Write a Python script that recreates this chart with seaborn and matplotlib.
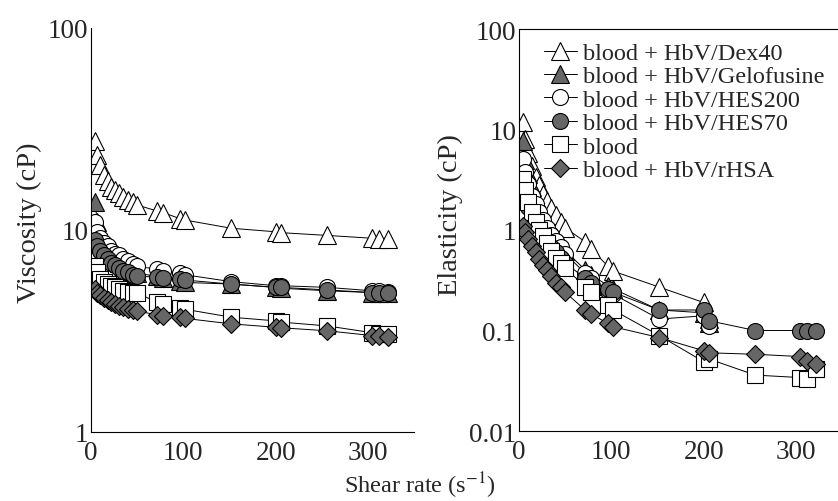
import numpy as np
import pandas as pd
import matplotlib
matplotlib.use('Agg')
import matplotlib.pyplot as plt
import seaborn as sns

# === DATA ===
SHEAR = [4, 7, 10, 14, 18, 22, 26, 30, 35, 40, 45, 50,
         72, 78, 96, 102, 152, 200, 206, 256, 305, 312, 322]

LABELS = ["blood + HbV/Dex40", "blood + HbV/Gelofusine", "blood + HbV/HES200",
          "blood + HbV/HES70", "blood", "blood + HbV/rHSA"]

# viscosity (cP)
visc_dex40 = [27.5, 23.5, 21.0, 18.7, 17.4, 16.4, 15.7, 15.2, 14.6, 14.0, 13.8, 13.3,
              12.4, 12.2, 11.4, 11.2, 10.2, 9.8, 9.7, 9.4, 9.1, 9.05, 9.0]
visc_gelo = [13.8, 11.0, 9.6, 8.6, 8.0, 7.6, 7.2, 6.9, 6.7, 6.5, 6.3, 6.1,
             5.9, 5.8, 5.6, 5.5, 5.4, 5.2, 5.15, 5.0, 4.9, 4.9, 4.9]
visc_hes200 = [11.0, 9.8, 9.1, 8.6, 8.3, 7.9, 7.6, 7.5, 7.2, 7.0, 6.8, 6.6,
               6.4, 6.3, 6.1, 6.0, 5.55, 5.3, 5.3, 5.2, 5.0, 5.0, 4.95]
visc_hes70 = [8.9, 8.3, 7.9, 7.5, 7.2, 6.9, 6.7, 6.5, 6.3, 6.2, 6.0, 5.9,
              5.85, 5.8, 5.7, 5.65, 5.4, 5.2, 5.2, 5.05, 4.9, 4.85, 4.85]
visc_blood = [6.6, 6.2, 5.75, 5.55, 5.4, 5.3, 5.25, 5.1, 5.0, 4.95, 4.9, 4.85,
              4.4, 4.3, 4.1, 4.05, 3.7, 3.55, 3.5, 3.35, 3.1, 3.05, 3.05]
visc_rhsa = [5.1, 4.9, 4.75, 4.6, 4.5, 4.4, 4.3, 4.2, 4.15, 4.05, 4.0, 3.97,
             3.8, 3.76, 3.7, 3.65, 3.43, 3.3, 3.28, 3.17, 3.0, 3.0, 2.95]

# elasticity (cP)
elas_dex40 = [11.9, 8.0, 5.8, 4.3, 3.4, 2.8, 2.3, 1.95, 1.65, 1.4, 1.2, 1.05,
              0.76, 0.65, 0.44, 0.39, 0.27, 0.19, 0.13]
elas_gelo = [7.7, 5.0, 3.6, 2.7, 2.1, 1.7, 1.4, 1.2, 1.0, 0.85, 0.72, 0.62,
             0.4, 0.36, 0.28, 0.26, 0.16, 0.15, 0.12]
elas_hes200 = [5.1, 3.8, 2.9, 2.2, 1.8, 1.5, 1.25, 1.05, 0.9, 0.78, 0.67, 0.58,
               0.37, 0.33, 0.25, 0.23, 0.13, 0.14, 0.11]
elas_hes70 = [2.4, 2.0, 1.7, 1.4, 1.2, 1.0, 0.88, 0.78, 0.68, 0.6, 0.53, 0.47,
              0.33, 0.3, 0.26, 0.24, 0.16, 0.16, 0.125, 0.1, 0.1, 0.1, 0.1]
elas_blood = [3.2, 2.5, 1.9, 1.5, 1.2, 1.0, 0.88, 0.75, 0.62, 0.53, 0.47, 0.42,
              0.27, 0.24, 0.18, 0.16, 0.089, 0.049, 0.052, 0.036, 0.034, 0.033, 0.041]
elas_rhsa = [1.1, 0.95, 0.82, 0.7, 0.6, 0.52, 0.45, 0.4, 0.35, 0.3, 0.27, 0.24,
             0.159, 0.146, 0.118, 0.109, 0.085, 0.063, 0.06, 0.058, 0.055, 0.05, 0.046]

VISC = [visc_dex40, visc_gelo, visc_hes200, visc_hes70, visc_blood, visc_rhsa]
ELAS = [elas_dex40, elas_gelo, elas_hes200, elas_hes70, elas_blood, elas_rhsa]

# === STYLE ===
sns.set_theme(style="white")
plt.rcParams['font.family'] = ['Liberation Serif', 'DejaVu Serif']
plt.rcParams['mathtext.fontset'] = 'stix'

GRAY = "#666666"
MARKERS = ["^", "^", "o", "o", "s", "D"]
FACES = ["white", GRAY, "white", GRAY, "white", GRAY]
SIZES = [12.5, 12.5, 11.5, 11.5, 11.5, 9.5]

fig = plt.figure(figsize=(8.38, 5.02), dpi=100)
ax1 = fig.add_axes([91 / 838, 69 / 502, 323 / 838, 404 / 502])
ax2 = fig.add_axes([519 / 838, 70 / 502, 323 / 838, 402 / 502])


def draw(ax, series):
    for vals, lab, m, fc, ms in zip(series, LABELS, MARKERS, FACES, SIZES):
        df = pd.DataFrame({"shear": SHEAR[:len(vals)], "val": vals})
        sns.lineplot(data=df, x="shear", y="val", ax=ax, estimator=None,
                     color="black", linewidth=0.7, marker=m, markersize=ms,
                     markerfacecolor=fc, markeredgecolor="black",
                     markeredgewidth=0.8, label=lab, legend=False)


draw(ax1, VISC)
draw(ax2, ELAS)

for ax in (ax1, ax2):
    ax.set_yscale("log")
    ax.set_xlim(0, 350)
    ax.set_xticks([0, 100, 200, 300])
    ax.set_xlabel("")
    ax.tick_params(axis="both", which="both", direction="in", labelsize=19.5,
                   length=4, width=0.7, color="black")
    ax.tick_params(axis="both", which="minor", length=2)
    ax.tick_params(axis="x", pad=6)
    ax.tick_params(axis="y", pad=2)
    for s in ax.spines.values():
        s.set_color("black")
        s.set_linewidth(0.8)

ax1.set_ylim(1, 100)
ax1.set_yticks([1, 10, 100])
ax1.set_yticklabels(["1", "10", "100"])
ax1.spines["top"].set_visible(False)
ax1.spines["right"].set_visible(False)
ax1.set_ylabel("Viscosity (cP)", fontsize=20.5)
ax1.yaxis.set_label_coords(-0.152, 0.52)

ax2.set_ylim(0.01, 100)
ax2.set_yticks([0.01, 0.1, 1, 10, 100])
ax2.set_yticklabels(["0.01", "0.1", "1", "10", "100"])
ax2.spines["right"].set_visible(False)
ax2.set_ylabel("Elasticity (cP)", fontsize=20.5)
ax2.yaxis.set_label_coords(-0.173, 0.54)

handles, labels = ax2.get_legend_handles_labels()
fig.legend(handles, labels, loc="upper left",
           bbox_to_anchor=(544 / 838, 1 - 43 / 502), frameon=False,
           fontsize=17.5, handlelength=1.35, handletextpad=0.25,
           labelspacing=0.06, borderpad=0, borderaxespad=0)

fig.text(420 / 838, 1 - 486 / 502, r"Shear rate (s$^{\mathrm{-1}}$)",
         ha="center", va="center", fontsize=17.5)

fig.savefig("out.png", dpi=100)
